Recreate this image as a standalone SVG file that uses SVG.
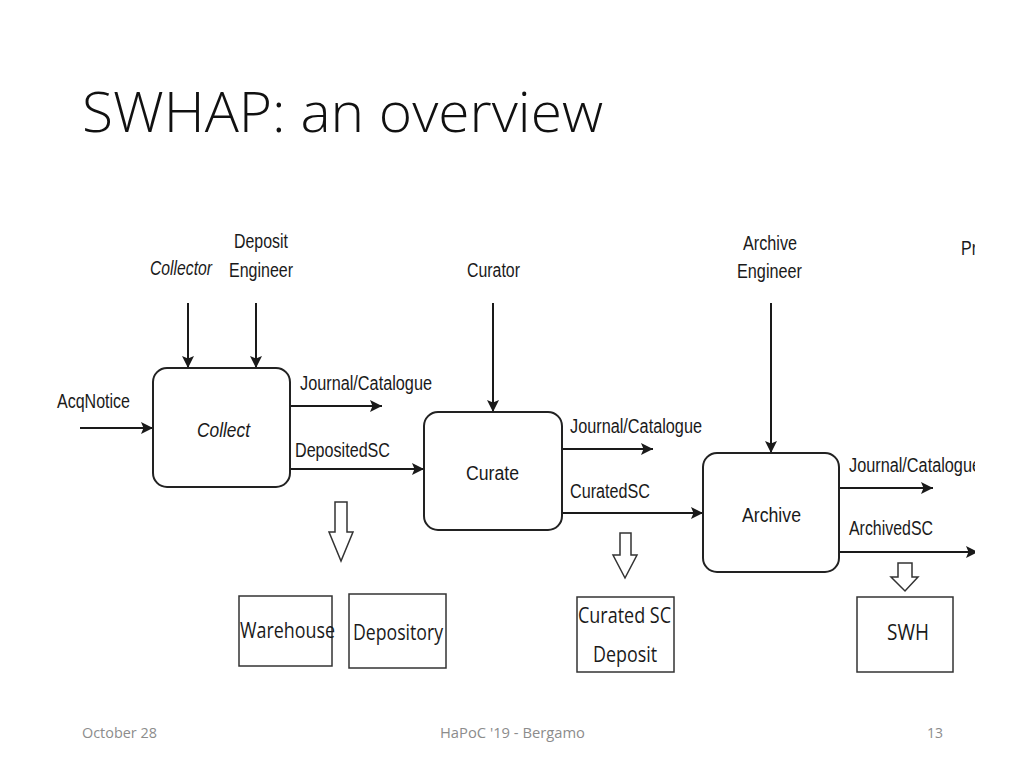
<svg xmlns="http://www.w3.org/2000/svg" width="1024" height="768" viewBox="0 0 1024 768">
<style>
.lbl{font-family:"Liberation Sans",Arial,sans-serif;font-size:20px;fill:#1a1a1a}
.it{font-style:italic}
.box{fill:#fff;stroke:#222;stroke-width:2}
.sbox{fill:#fff;stroke:#333;stroke-width:1.5}
.cal{font-family:"Open Sans","Liberation Sans",sans-serif;font-size:22px;fill:#1a1a1a}
.conn{stroke:#1a1a1a;stroke-width:2;fill:none;marker-end:url(#ah)}
.blk{fill:#fff;stroke:#333;stroke-width:1.5}
.foot{font-family:"Open Sans","Liberation Sans",sans-serif;font-size:14px;fill:#8c8c8c}
</style>
<defs>
<marker id="ah" viewBox="0 0 12 12" refX="12" refY="6" markerWidth="13" markerHeight="12" markerUnits="userSpaceOnUse" orient="auto">
<path d="M0,0 L12,6 L0,12 L2.5,6 z" fill="#1a1a1a"/>
</marker>
<clipPath id="clip"><rect x="0" y="180" width="975" height="520"/></clipPath>
</defs>
<rect width="1024" height="768" fill="#fff"/>
<text x="82" y="132" font-family="'Open Sans','Liberation Sans',sans-serif" font-weight="300" font-size="56" fill="#111" textLength="521" lengthAdjust="spacingAndGlyphs">SWHAP: an overview</text>

<g clip-path="url(#clip)">
<g id="connectors">
<line class="conn" x1="80" y1="428" x2="153" y2="428"/>
<line class="conn" x1="188" y1="303" x2="188" y2="368"/>
<line class="conn" x1="256" y1="303" x2="256" y2="368"/>
<line class="conn" x1="290" y1="406" x2="382" y2="406"/>
<line class="conn" x1="290" y1="469" x2="424" y2="469"/>
<line class="conn" x1="493" y1="303" x2="493" y2="412"/>
<line class="conn" x1="562" y1="449" x2="653" y2="449"/>
<line class="conn" x1="562" y1="513" x2="703" y2="513"/>
<line class="conn" x1="771" y1="303" x2="771" y2="453"/>
<line class="conn" x1="839" y1="488" x2="933" y2="488"/>
<line class="conn" x1="839" y1="552" x2="978" y2="552"/>
<polygon class="blk" points="335,502 347,502 347,532 353,532 341,561 329,532 335,532"/>
<polygon class="blk" points="620,533 631,533 631,555 637,555 625,578 613,555 620,555"/>
<polygon class="blk" points="898,563 912,563 912,577 918,577 905,591 891,577 898,577"/>
</g>

<g id="labels">
<text class="lbl" x="57" y="408" textLength="73" lengthAdjust="spacingAndGlyphs">AcqNotice</text>
<text class="lbl it" x="150" y="275" textLength="62" lengthAdjust="spacingAndGlyphs">Collector</text>
<text class="lbl" x="234" y="248" textLength="54" lengthAdjust="spacingAndGlyphs">Deposit</text>
<text class="lbl" x="229" y="277" textLength="64" lengthAdjust="spacingAndGlyphs">Engineer</text>
<text class="lbl" x="300" y="390" textLength="132" lengthAdjust="spacingAndGlyphs">Journal/Catalogue</text>
<text class="lbl" x="295" y="457" textLength="95" lengthAdjust="spacingAndGlyphs">DepositedSC</text>
<text class="lbl" x="467" y="277" textLength="53" lengthAdjust="spacingAndGlyphs">Curator</text>
<text class="lbl" x="570" y="433" textLength="132" lengthAdjust="spacingAndGlyphs">Journal/Catalogue</text>
<text class="lbl" x="570" y="498" textLength="80" lengthAdjust="spacingAndGlyphs">CuratedSC</text>
<text class="lbl" x="743" y="250" textLength="54" lengthAdjust="spacingAndGlyphs">Archive</text>
<text class="lbl" x="737" y="278" textLength="65" lengthAdjust="spacingAndGlyphs">Engineer</text>
<text class="lbl" x="849" y="472" textLength="132" lengthAdjust="spacingAndGlyphs">Journal/Catalogue</text>
<text class="lbl" x="849" y="535" textLength="84" lengthAdjust="spacingAndGlyphs">ArchivedSC</text>
<text class="lbl" x="961" y="255" textLength="16" lengthAdjust="spacingAndGlyphs">Pr</text>
</g>

<g id="collect">
<rect class="box" x="153" y="368" width="137" height="119" rx="14"/>
<text class="lbl it" x="197" y="437" font-size="22" textLength="53" lengthAdjust="spacingAndGlyphs">Collect</text>
</g>
<g id="curate">
<rect class="box" x="424" y="412" width="138" height="118" rx="14"/>
<text class="lbl" x="466" y="480" font-size="22" textLength="53" lengthAdjust="spacingAndGlyphs">Curate</text>
</g>
<g id="archive">
<rect class="box" x="703" y="453" width="136" height="119" rx="14"/>
<text class="lbl" x="742" y="522" font-size="22" textLength="59" lengthAdjust="spacingAndGlyphs">Archive</text>
</g>

<g id="warehouse">
<rect class="sbox" x="239" y="596" width="93" height="70"/>
<text class="cal" x="240" y="638" textLength="95" lengthAdjust="spacingAndGlyphs">Warehouse</text>
</g>
<g id="depository">
<rect class="sbox" x="349" y="594" width="97" height="74"/>
<text class="cal" x="353" y="640" textLength="90" lengthAdjust="spacingAndGlyphs">Depository</text>
</g>
<g id="curated-sc-deposit">
<rect class="sbox" x="577" y="597" width="97" height="75"/>
<text class="cal" x="578" y="623" textLength="93" lengthAdjust="spacingAndGlyphs">Curated SC</text>
<text class="cal" x="593" y="662" textLength="64" lengthAdjust="spacingAndGlyphs">Deposit</text>
</g>
<g id="swh">
<rect class="sbox" x="857" y="597" width="96" height="75"/>
<text class="cal" x="887" y="640" font-size="24" textLength="42" lengthAdjust="spacingAndGlyphs">SWH</text>
</g>
</g>

<text class="foot" x="82" y="738" textLength="75" lengthAdjust="spacingAndGlyphs">October 28</text>
<text class="foot" x="440" y="738" textLength="145" lengthAdjust="spacingAndGlyphs">HaPoC '19 - Bergamo</text>
<text class="foot" x="943" y="738" text-anchor="end">13</text>
</svg>
